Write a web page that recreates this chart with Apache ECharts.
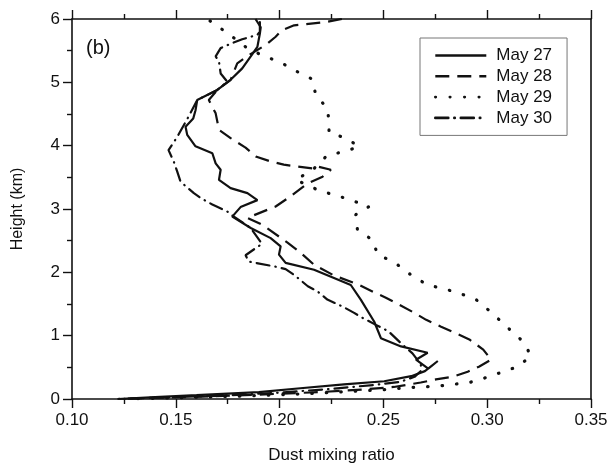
<!DOCTYPE html>
<html>
<head>
<meta charset="utf-8">
<script src="https://cdn.jsdelivr.net/npm/echarts@6/dist/echarts.min.js"></script>
<style>
  html, body { margin: 0; padding: 0; background: #fff; }
  #main { width: 611px; height: 469px; }
</style>
</head>
<body>
<div id="main"></div>
<script>
// dust mixing ratio profiles, [ratio, height km], top to bottom
const may27 = [
  [0.1884, 6.0], [0.1909, 5.87], [0.1905, 5.77], [0.1893, 5.56], [0.1861, 5.41], [0.1820, 5.22],
  [0.1764, 5.04], [0.1700, 4.88], [0.1603, 4.72], [0.1595, 4.56], [0.1584, 4.43], [0.1547, 4.30],
  [0.1555, 4.17], [0.1595, 3.99], [0.1676, 3.88], [0.1692, 3.72], [0.1716, 3.62], [0.1708, 3.46],
  [0.1764, 3.33], [0.1845, 3.25], [0.1893, 3.14], [0.1812, 3.03], [0.1772, 2.88], [0.1861, 2.70],
  [0.1957, 2.54], [0.2005, 2.41], [0.1997, 2.28], [0.2029, 2.15], [0.2166, 2.04], [0.2262, 1.91],
  [0.2343, 1.80], [0.2391, 1.57], [0.2456, 1.22], [0.2488, 0.96], [0.2585, 0.83], [0.2713, 0.73],
  [0.2657, 0.62], [0.2716, 0.48], [0.2762, 0.60], [0.2700, 0.44], [0.2634, 0.36], [0.2504, 0.28],
  [0.2310, 0.23], [0.2100, 0.17], [0.1900, 0.11], [0.1600, 0.06], [0.1400, 0.03], [0.1220, 0]
];
const may28 = [
  [0.2300, 6.0], [0.2220, 5.95], [0.2070, 5.90], [0.2010, 5.82], [0.1981, 5.72], [0.1933, 5.59],
  [0.1852, 5.43], [0.1796, 5.30], [0.1764, 5.04], [0.1700, 4.88], [0.1659, 4.72], [0.1692, 4.51],
  [0.1708, 4.25], [0.1764, 4.12], [0.1836, 3.97], [0.1885, 3.83], [0.1957, 3.75], [0.2020, 3.70],
  [0.2086, 3.67], [0.2158, 3.64], [0.2170, 3.68], [0.2247, 3.62], [0.2207, 3.51], [0.2134, 3.40],
  [0.2044, 3.18], [0.1981, 3.04], [0.1845, 2.86], [0.1917, 2.75], [0.2038, 2.47], [0.2094, 2.33],
  [0.2166, 2.12], [0.2262, 1.95], [0.2385, 1.80], [0.2452, 1.69], [0.2512, 1.60], [0.2576, 1.49],
  [0.2649, 1.36], [0.2706, 1.25], [0.2778, 1.14], [0.2840, 1.05], [0.2914, 0.94], [0.2981, 0.78],
  [0.3019, 0.62], [0.2960, 0.51], [0.2906, 0.43], [0.2834, 0.35], [0.2753, 0.31], [0.2680, 0.26],
  [0.2550, 0.19], [0.2400, 0.15], [0.2200, 0.11], [0.1900, 0.07], [0.1600, 0.035], [0.1300, 0.01],
  [0.1220, 0]
];
const may29 = [
  [0.1665, 5.97], [0.1760, 5.75], [0.1836, 5.56], [0.1925, 5.41], [0.1997, 5.33], [0.2078, 5.18],
  [0.2158, 5.05], [0.2174, 4.80], [0.2230, 4.59], [0.2238, 4.38], [0.2238, 4.20], [0.2311, 4.13],
  [0.2383, 3.99], [0.2319, 3.91], [0.2230, 3.85], [0.2160, 3.62], [0.2078, 3.46], [0.2198, 3.28],
  [0.2270, 3.22], [0.2343, 3.14], [0.2431, 3.04], [0.2367, 2.91], [0.2375, 2.67], [0.2448, 2.51],
  [0.2472, 2.28], [0.2552, 2.16], [0.2633, 1.96], [0.2713, 1.80], [0.2794, 1.74], [0.2874, 1.66],
  [0.2946, 1.57], [0.3019, 1.37], [0.3091, 1.15], [0.3172, 0.91], [0.3212, 0.68], [0.3147, 0.51],
  [0.3067, 0.42], [0.2987, 0.33], [0.2914, 0.26], [0.2834, 0.23], [0.2753, 0.20], [0.2665, 0.19],
  [0.2512, 0.15], [0.2350, 0.12], [0.2100, 0.08], [0.1800, 0.045], [0.1500, 0.02], [0.1250, 0]
];
const may30 = [
  [0.1905, 5.95], [0.1905, 5.80], [0.1893, 5.75], [0.1820, 5.68], [0.1772, 5.62], [0.1716, 5.54],
  [0.1692, 5.41], [0.1708, 5.33], [0.1716, 5.14], [0.1748, 5.01], [0.1700, 4.88], [0.1603, 4.72],
  [0.1560, 4.45], [0.1507, 4.14], [0.1465, 3.93], [0.1490, 3.75], [0.1507, 3.59], [0.1523, 3.43],
  [0.1587, 3.25], [0.1627, 3.16], [0.1676, 3.07], [0.1748, 2.96], [0.1780, 2.88], [0.1861, 2.70],
  [0.1915, 2.45], [0.1836, 2.27], [0.1852, 2.17], [0.1980, 2.09], [0.2029, 2.05], [0.2070, 1.96],
  [0.2136, 1.78], [0.2182, 1.70], [0.2230, 1.57], [0.2303, 1.46], [0.2359, 1.36], [0.2400, 1.28],
  [0.2464, 1.17], [0.2524, 1.07], [0.2585, 0.88], [0.2640, 0.72], [0.2680, 0.55], [0.2683, 0.45],
  [0.2650, 0.35], [0.2580, 0.27], [0.2450, 0.22], [0.2250, 0.16], [0.2000, 0.10], [0.1700, 0.05],
  [0.1400, 0.02], [0.1230, 0]
];
const dayNames = ['May 27', 'May 28', 'May 29', 'May 30'];

const chart = echarts.init(document.getElementById('main'), null, { renderer: 'canvas' });

const ink = '#111';
const font = 'Liberation Sans, Arial, Helvetica, sans-serif';

// shared axis look
function axisBase(extra) {
    return Object.assign({
        type: 'value',
        axisLine: { show: true, onZero: false, lineStyle: { color: ink, width: 1.6 } },
        axisTick: { show: true, inside: false, length: 9, lineStyle: { color: ink, width: 1.4 } },
        minorTick: { show: true, splitNumber: 2, length: 5, lineStyle: { color: ink, width: 1.4 } },
        splitLine: { show: false },
        minorSplitLine: { show: false }
    }, extra);
}

function lineSeries(name, data, style) {
    return {
        name: name,
        type: 'line',
        data: data,
        symbol: 'none',
        smooth: false,
        silent: true,
        itemStyle: { color: ink },
        lineStyle: Object.assign({ color: ink, width: 2.2 }, style)
    };
}

const option = {
    backgroundColor: '#fff',
    animation: false,
    color: [ink, ink, ink, ink],
    textStyle: { fontFamily: font },
    grid: { left: 72, right: 20, top: 19, bottom: 70, containLabel: false },
    legend: {
        data: dayNames,
        orient: 'vertical',
        left: 420,
        top: 38,
        padding: [9, 15, 9, 14],
        borderColor: '#777',
        borderWidth: 1,
        itemWidth: 51,
        itemHeight: 12,
        itemGap: 3.8,
        itemStyle: { opacity: 0 },
        lineStyle: { width: 2.6 },
        textStyle: { fontSize: 17, color: ink, fontFamily: font, padding: [0, 0, 0, 5], lineHeight: 17 }
    },
    xAxis: [
        axisBase({
            position: 'bottom',
            min: 0.1, max: 0.35, interval: 0.05,
            name: 'Dust mixing ratio',
            nameLocation: 'middle',
            nameGap: 48,
            nameTextStyle: { fontSize: 17, color: ink, fontFamily: font },
            axisLabel: {
                margin: 13, fontSize: 17, color: ink, fontFamily: font,
                formatter: function (v) { return v.toFixed(2); }
            }
        }),
        axisBase({
            position: 'top',
            min: 0.1, max: 0.35, interval: 0.05,
            axisLabel: { show: false }
        })
    ],
    yAxis: [
        axisBase({
            position: 'left',
            min: 0, max: 6, interval: 1,
            name: 'Height (km)',
            nameLocation: 'middle',
            nameGap: 46,
            nameTextStyle: { fontSize: 16, color: ink, fontFamily: font },
            axisLabel: { margin: 12, fontSize: 17, color: ink, fontFamily: font }
        }),
        axisBase({
            position: 'right',
            min: 0, max: 6, interval: 1,
            axisTick: { show: false },
            minorTick: { show: false },
            axisLabel: { show: false }
        })
    ],
    graphic: [{
        type: 'text',
        left: 86,
        top: 38,
        style: { text: '(b)', fontSize: 20, fill: ink, fontFamily: font }
    }],
    series: [
        lineSeries(dayNames[0], may27, { type: 'solid' }),
        lineSeries(dayNames[1], may28, { type: [14, 8] }),
        lineSeries(dayNames[2], may29, { type: [0.5, 14], width: 3.2, cap: 'round' }),
        lineSeries(dayNames[3], may30, { type: [13, 6, 0.5, 6], cap: 'round' })
    ]
};

chart.setOption(option);
</script>
</body>
</html>
